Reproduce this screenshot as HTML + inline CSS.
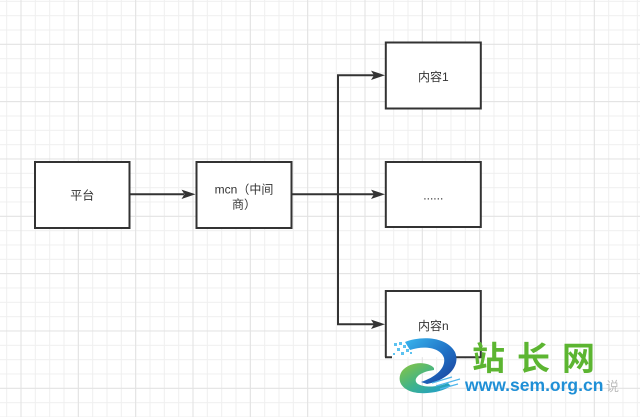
<!DOCTYPE html>
<html>
<head>
<meta charset="utf-8">
<style>
html,body{margin:0;padding:0;background:#fff;}
body{width:640px;height:417px;overflow:hidden;}
svg{display:block;}
</style>
</head>
<body>
<svg width="640" height="417" viewBox="0 0 640 417" xmlns="http://www.w3.org/2000/svg">
  <defs>
    <pattern id="minor" width="14.333" height="14.333" patternUnits="userSpaceOnUse" x="6.17" y="0.83">
      <path d="M0.5 0 V14.333 M0 0.5 H14.333" stroke="#efefef" stroke-width="1" fill="none"/>
    </pattern>
    <pattern id="major" width="57.333" height="57.333" patternUnits="userSpaceOnUse" x="20.5" y="43.8">
      <path d="M0.5 0 V57.333 M0 0.5 H57.333" stroke="#e2e2e2" stroke-width="1" fill="none"/>
    </pattern>
    <linearGradient id="gBlue" x1="0" y1="0" x2="1" y2="1">
      <stop offset="0" stop-color="#38b6ee"/>
      <stop offset="0.55" stop-color="#1f6fc4"/>
      <stop offset="1" stop-color="#1c3c96"/>
    </linearGradient>
    <linearGradient id="gGreen" x1="0" y1="0" x2="1" y2="1">
      <stop offset="0" stop-color="#8cc63f"/>
      <stop offset="0.5" stop-color="#3fb38a"/>
      <stop offset="1" stop-color="#1a9ad8"/>
    </linearGradient>
  </defs>

  <rect x="0" y="0" width="640" height="417" fill="#fff"/>
  <rect x="0" y="0" width="640" height="417" fill="url(#minor)"/>
  <rect x="0" y="0" width="640" height="417" fill="url(#major)"/>

  <!-- boxes -->
  <g fill="#fff" stroke="#333" stroke-width="2">
    <rect x="35" y="162" width="94.5" height="66"/>
    <rect x="196.5" y="162" width="95" height="66"/>
    <rect x="385.8" y="42.5" width="95" height="66"/>
    <rect x="385.8" y="162" width="95" height="65"/>
  </g>
  <!-- 内容n box (bottom partly hidden by logo) -->
  <rect x="385.8" y="291" width="95" height="66.2" fill="#fff"/>
  <path d="M385.8 357.2 V291 H480.8 V357.2 M385 357.2 H392 M447 357.2 H481.6" fill="none" stroke="#333" stroke-width="2"/>

  <!-- connectors -->
  <g stroke="#333" stroke-width="2" fill="none">
    <path d="M130 194.3 H184"/>
    <path d="M292 194.3 H374.5"/>
    <path d="M338 75.3 V324.3"/>
    <path d="M337 75.3 H374.5"/>
    <path d="M337 324.3 H374.5"/>
  </g>
  <g fill="#333">
    <polygon points="195.5,194.3 181.5,189.6 184.5,194.3 181.5,199"/>
    <polygon points="385,75.3 371,70.6 374,75.3 371,80"/>
    <polygon points="385,194.3 371,189.6 374,194.3 371,199"/>
    <polygon points="385,324.3 371,319.6 374,324.3 371,329"/>
  </g>

  <!-- labels -->
  <g font-family="'Liberation Sans','Noto Sans CJK SC',sans-serif" font-size="12" fill="#333" text-anchor="middle">
    <text x="82.2" y="199.5">平台</text>
    <text x="244" y="193.5">mcn（中间</text>
    <text x="244" y="208.5">商）</text>
    <text x="433.3" y="81">内容1</text>
    <text x="433.3" y="199.5">......</text>
    <text x="433.3" y="330">内容n</text>
  </g>

  <!-- watermark logo -->
  <g>
    <g fill="#5cc2f0">
      <rect x="394" y="343" width="3" height="3"/>
      <rect x="399" y="342" width="3" height="3"/>
      <rect x="403" y="345" width="3" height="3"/>
      <rect x="397" y="348" width="3" height="3"/>
      <rect x="406" y="349" width="3" height="3"/>
      <rect x="401" y="352" width="3" height="3"/>
      <rect x="410" y="352" width="2" height="2"/>
      <rect x="393" y="353" width="2" height="2"/>
    </g>
    <path d="M405 342 C420 336 446 336 455 352 C461 366 448 380 427 384 L421 382 C436 377 446 368 444 358 C441 348 425 345 410 350 Z" fill="url(#gBlue)"/>
    <path d="M434 368 C428 361 410 361 402 371 C395 382 404 392 419 393 C431 394 443 391 451 386 L448 383 C438 387 425 388 418 384 C412 380 418 372 434 370 Z" fill="url(#gGreen)"/>
    <g stroke="#4fb5ea" stroke-width="1.2" fill="none">
      <path d="M436 386 L460 379"/>
      <path d="M440 389 L458 384"/>
      <path d="M432 383 L452 377"/>
    </g>
    <text x="472" y="370" font-family="'Noto Sans CJK SC',sans-serif" font-weight="700" font-size="33" letter-spacing="12" fill="#5cb531">站长网</text>
    <text x="465" y="391" font-family="'Liberation Sans',sans-serif" font-weight="700" font-size="17.5" fill="#1f8fd6">www.sem.org.cn</text>
    <text x="606" y="391" font-family="'Liberation Sans','Noto Sans CJK SC',sans-serif" font-size="13" fill="#bdbdbd">说</text>
  </g>
</svg>
</body>
</html>
